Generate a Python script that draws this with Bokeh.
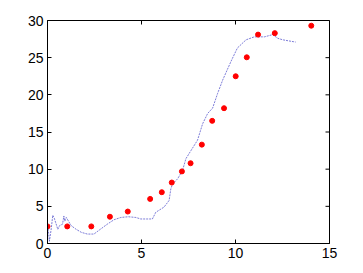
import math
from bokeh.plotting import figure
from bokeh.models import Range1d, FixedTicker
from bokeh.embed import file_html
from bokeh.resources import INLINE

# Red measured points
pts_x = [0.0, 1.05, 2.33, 3.32, 4.27, 5.46, 6.08, 6.61, 7.15, 7.61, 8.21, 8.76, 9.39, 10.01, 10.6, 11.2, 12.09, 14.03]
pts_y = [2.3, 2.3, 2.3, 3.6, 4.3, 6.0, 6.9, 8.2, 9.7, 10.8, 13.3, 16.5, 18.2, 22.5, 25.05, 28.1, 28.3, 29.3]

# Blue curve
line_x = [0.02, 0.1, 0.2, 0.28, 0.36, 0.55, 0.64, 0.8, 0.87, 0.92, 1.0, 1.26, 1.53, 1.8, 2.12, 2.47, 2.83, 3.18,
          3.54, 3.9, 4.3, 4.7, 4.96, 5.3, 5.58, 5.76, 6.2, 6.47, 6.56, 6.65, 6.92, 7.18, 7.36, 7.63, 7.98, 8.25,
          8.52, 8.78, 9.05, 9.32, 9.76, 10.1, 10.56, 11.0, 11.54, 11.98, 12.25, 12.52, 12.96, 13.2]
line_y = [2.4, 0.3, 2.0, 3.8, 3.4, 1.9, 2.4, 2.6, 3.7, 3.0, 3.5, 2.4, 1.9, 1.5, 1.27, 1.27, 1.95, 2.6,
          3.2, 3.5, 3.6, 3.5, 3.3, 3.3, 3.3, 4.2, 4.9, 5.8, 7.35, 8.0, 8.7, 9.8, 11.4, 12.5, 13.9, 16.1,
          17.5, 18.2, 20.2, 22.0, 24.5, 26.3, 27.4, 27.8, 27.8, 28.1, 27.6, 27.4, 27.2, 27.1]

x_ticks = [0, 5, 10, 15]
y_ticks = [0, 5, 10, 15, 20, 25, 30]
x_max = 15
y_max = 30

p = figure(width=363, height=273, output_backend="svg", toolbar_location=None,
           x_range=Range1d(0, x_max), y_range=Range1d(0, y_max),
           min_border_left=47, min_border_right=34, min_border_top=20, min_border_bottom=30)
p.grid.visible = False
p.outline_line_color = "black"
p.outline_line_width = 1
p.background_fill_color = "white"
p.border_fill_color = "white"

p.line(line_x, line_y, line_color="#4a4ac8", line_width=0.8, line_dash="2 1", line_alpha=0.9)
p.scatter(pts_x, pts_y, size=5, color="#ff0000")

# inward ticks on the top and right edges (clipped to the frame)
p.scatter(x_ticks, [y_max] * len(x_ticks), marker="dash", angle=math.pi / 2, size=8,
          line_color="black", line_width=1)
p.scatter([x_max] * len(y_ticks), y_ticks, marker="dash", size=8, line_color="black", line_width=1)

font = "Liberation Sans"
for ax in p.xaxis + p.yaxis:
    ax.major_tick_in = 4
    ax.major_tick_out = 0
    ax.minor_tick_line_color = None
    ax.axis_line_color = "black"
    ax.major_tick_line_color = "black"
    ax.major_label_text_font = font
    ax.major_label_text_font_size = "14px"
    ax.major_label_text_color = "black"
p.xaxis.ticker = FixedTicker(ticks=x_ticks)
p.yaxis.ticker = FixedTicker(ticks=y_ticks)
p.xaxis.major_label_standoff = 4
p.yaxis.major_label_standoff = 4

open("out.html", "w").write(file_html(p, INLINE))
